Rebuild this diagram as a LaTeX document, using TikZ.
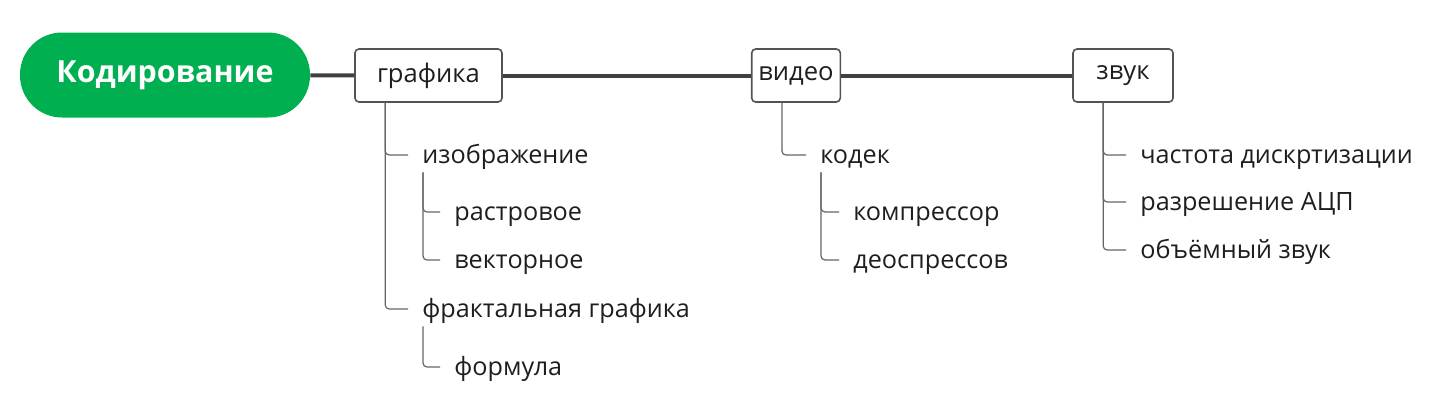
\documentclass[tikz,border=0pt]{standalone}
\usepackage{fontspec}
\setmainfont{Open Sans}
\usetikzlibrary{positioning,calc}
\definecolor{kodgreen}{RGB}{0,176,80}
\definecolor{linegray}{RGB}{64,64,64}
\definecolor{textgray}{RGB}{30,30,30}

\begin{document}
\begin{tikzpicture}[x=0.5pt,y=-0.5pt,
    root/.style={fill=kodgreen, text=white, rounded corners=21pt, minimum width=145pt,
        minimum height=42.5pt, font=\fontsize{15.2}{18}\selectfont\bfseries},
    topic/.style={draw=linegray!90, line width=0.8pt, rounded corners=2pt, fill=white,
        text=textgray, minimum height=26.5pt, font=\fontsize{12.8}{15}\selectfont},
    leaf/.style={anchor=west, inner xsep=7pt, inner ysep=0pt, text height=10pt, text depth=2pt,
        text=textgray, font=\fontsize{12.6}{15}\selectfont},
    trunk/.style={draw=linegray, line width=2pt},
    branch/.style={draw=linegray!80, line width=0.6pt, rounded corners=2pt}]

  \useasboundingbox (0,0) rectangle (1435,407);

  %main topics
  \node[root] (kod) at (165,75) {Кодирование};
  \node[topic, minimum width=73.5pt] (graf) at (428.5,75.5) {графика};
  \node[topic, minimum width=44pt] (video) at (796,75.5) {видео};
  \node[topic, minimum width=50pt] (zvuk) at (1123,75.5) {звук};

  \draw[trunk] (kod) -- (graf);
  \draw[trunk] (graf) -- (video);
  \draw[trunk] (video) -- (zvuk);

  %leaves
  \foreach \x/\y/\name/\txt in {408/155/izo/изображение, 440/212/rastr/растровое,
      440/260/vekt/векторное, 408/309/frakt/фрактальная графика, 440/367/form/формула,
      806/155/kodek/кодек, 839/212/komp/компрессор, 839/260/deo/деоспрессов,
      1126/155/chast/частота дискртизации, 1126/202/razr/разрешение АЦП,
      1126/250/obem/объёмный звук}{
    \node[leaf] (\name) at (\x,\y) {\txt};
  }

  %connectors from topics
  \foreach \parent/\kids in {graf/{izo,frakt}, video/{kodek}, zvuk/{chast,razr,obem}}{
    \foreach \kid in \kids {
      \draw[branch] ([xshift=15.5pt]\parent.south west) |- (\kid.west);
    }
  }

  %connectors from leaves
  \foreach \parent/\kid in {izo/rastr, izo/vekt, frakt/form, kodek/komp, kodek/deo}{
    \draw[branch] ([xshift=7.5pt,yshift=-2.5pt]\parent.south west) |- (\kid.west);
  }

\end{tikzpicture}
\end{document}
